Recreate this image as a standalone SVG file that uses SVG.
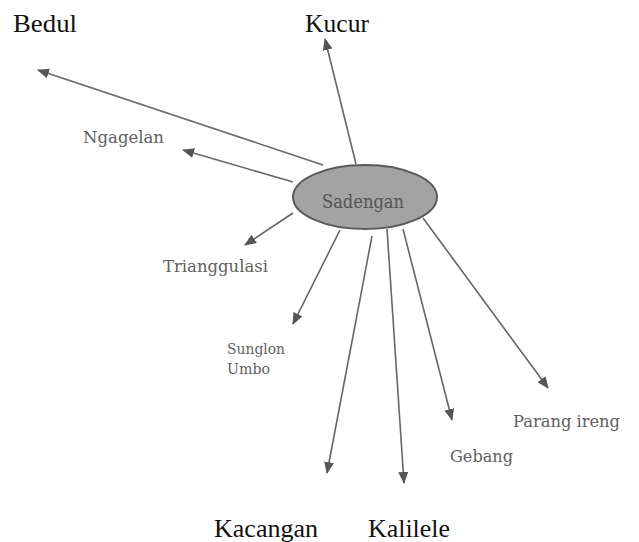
<svg xmlns="http://www.w3.org/2000/svg" width="639" height="542" viewBox="0 0 639 542">
<style>
.big{font-family:"Liberation Serif","Times New Roman",serif;font-size:26px;fill:#111}
.small{font-family:"DejaVu Serif","Liberation Serif",serif;font-size:16px;fill:#606060}
.conn line{stroke:#666;stroke-width:1.6;fill:none}
</style>
<defs>
<marker id="ah" markerUnits="userSpaceOnUse" markerWidth="12" markerHeight="10" refX="11" refY="5" orient="auto">
<path d="M0,0 L12,5 L0,10 z" fill="#555"/>
</marker>
</defs>
<rect width="639" height="542" fill="#ffffff"/>
<g id="connectors" class="conn">
<line x1="323" y1="165" x2="38" y2="70" marker-end="url(#ah)"/>
<line x1="356" y1="164" x2="325" y2="39" marker-end="url(#ah)"/>
<line x1="293" y1="182" x2="183" y2="150" marker-end="url(#ah)"/>
<line x1="293" y1="213" x2="245" y2="245" marker-end="url(#ah)"/>
<line x1="340" y1="230" x2="293" y2="324" marker-end="url(#ah)"/>
<line x1="372" y1="236" x2="327" y2="473" marker-end="url(#ah)"/>
<line x1="387" y1="229" x2="404" y2="483" marker-end="url(#ah)"/>
<line x1="403" y1="229" x2="452" y2="420" marker-end="url(#ah)"/>
<line x1="423" y1="218" x2="548" y2="388" marker-end="url(#ah)"/>
</g>
<g id="sadengan">
<ellipse cx="365" cy="197" rx="72" ry="32" fill="#a3a3a3" stroke="#5a5a5a" stroke-width="2"/>
<text x="363" y="208" text-anchor="middle" class="small" style="font-size:18px;fill:#555" textLength="82" lengthAdjust="spacingAndGlyphs">Sadengan</text>
</g>
<g id="bedul"><text x="13" y="32" class="big" textLength="64" lengthAdjust="spacingAndGlyphs">Bedul</text></g>
<g id="kucur"><text x="305" y="32" class="big" textLength="64" lengthAdjust="spacingAndGlyphs">Kucur</text></g>
<g id="ngagelan"><text x="83" y="143" class="small" style="font-size:17px" textLength="81" lengthAdjust="spacingAndGlyphs">Ngagelan</text></g>
<g id="trianggulasi"><text x="163" y="272" class="small" style="font-size:16.5px" textLength="105" lengthAdjust="spacingAndGlyphs">Trianggulasi</text></g>
<g id="sunglon-umbo">
<text x="227" y="354" class="small" style="font-size:14px" textLength="58" lengthAdjust="spacingAndGlyphs">Sunglon</text>
<text x="227" y="374" class="small" style="font-size:14px" textLength="43" lengthAdjust="spacingAndGlyphs">Umbo</text>
</g>
<g id="parang-ireng"><text x="513" y="427" class="small" textLength="107" lengthAdjust="spacingAndGlyphs">Parang ireng</text></g>
<g id="gebang"><text x="450" y="462" class="small" textLength="63" lengthAdjust="spacingAndGlyphs">Gebang</text></g>
<g id="kacangan"><text x="214" y="537" class="big" textLength="104" lengthAdjust="spacingAndGlyphs">Kacangan</text></g>
<g id="kalilele"><text x="368" y="537" class="big" textLength="82" lengthAdjust="spacingAndGlyphs">Kalilele</text></g>
</svg>
